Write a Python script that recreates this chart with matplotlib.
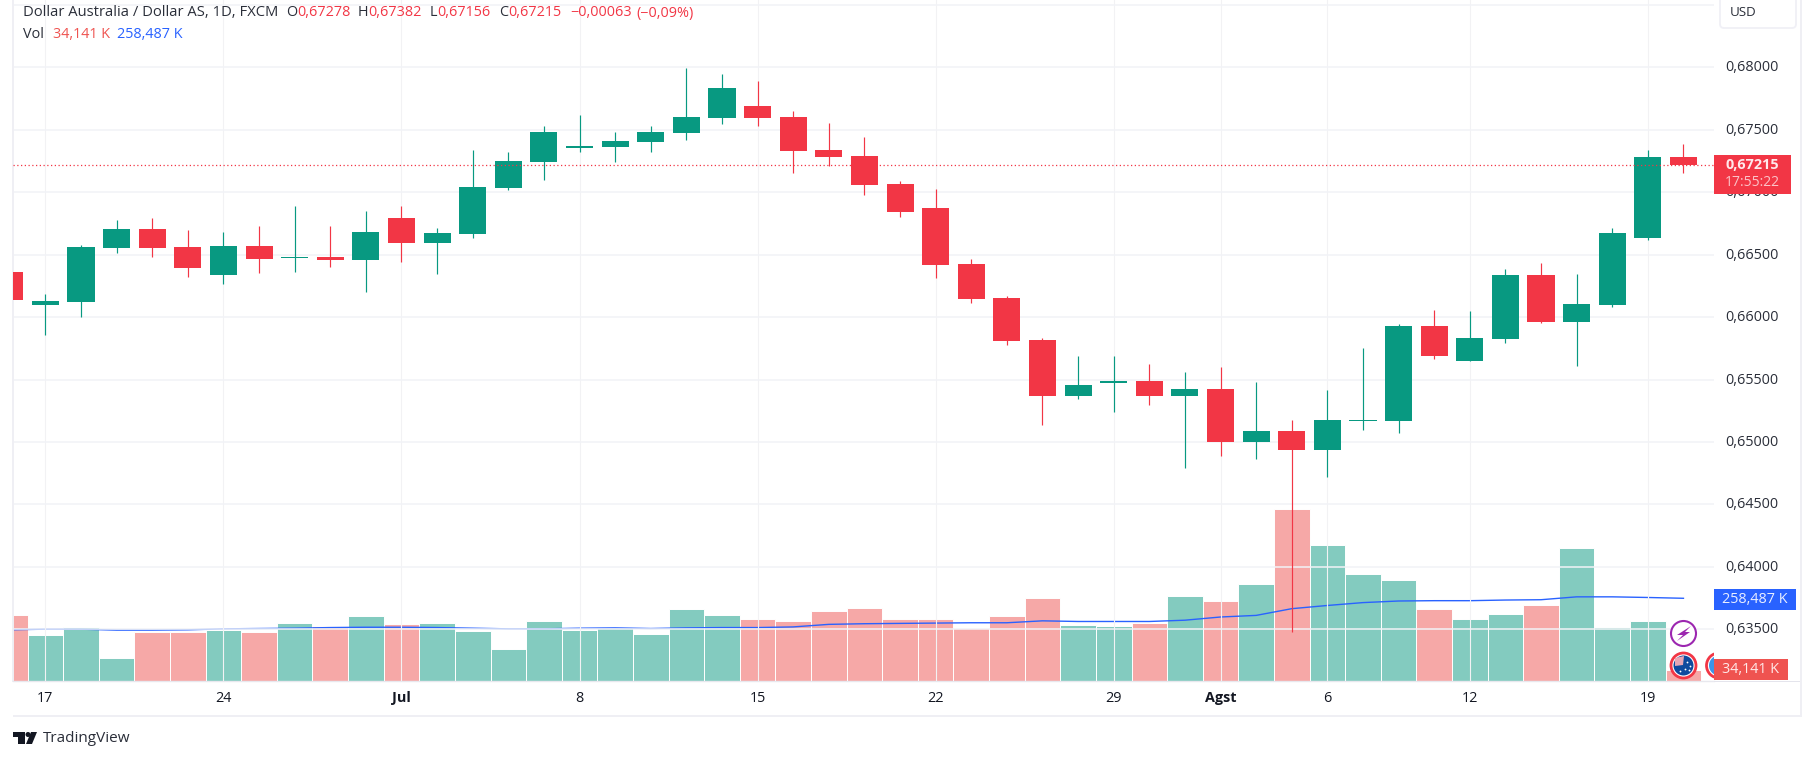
import matplotlib
matplotlib.use("Agg")
import matplotlib.pyplot as plt
from matplotlib.colors import to_rgba
from matplotlib.patches import Rectangle, Circle, Polygon, FancyBboxPatch
from matplotlib.transforms import Affine2D, Bbox

W, H = 1814, 760

# daily candles, first bar is Jun 14, index 0 is Jun 17
bar_idx = list(range(-1, 47))
opens = [0.66361, 0.66097, 0.66121, 0.66553, 0.66706, 0.66561, 0.66337, 0.66569, 0.66473, 0.66481, 0.66457, 0.66794,
         0.66593, 0.66666, 0.67034, 0.67242, 0.67354, 0.67362, 0.67402, 0.67474, 0.67594, 0.67690, 0.67602, 0.67338,
         0.67290, 0.67066, 0.66874, 0.66425, 0.66153, 0.65817, 0.65368, 0.65473, 0.65489, 0.65368, 0.65424, 0.65000,
         0.65088, 0.64936, 0.65168, 0.65168, 0.65929, 0.65649, 0.65825, 0.66337, 0.65961, 0.66097, 0.66634, 0.67278]
highs = [0.66361, 0.66185, 0.66577, 0.66778, 0.66794, 0.66698, 0.66682, 0.66730, 0.66890, 0.66730, 0.66850, 0.66890,
         0.66714, 0.67338, 0.67322, 0.67530, 0.67618, 0.67482, 0.67530, 0.67995, 0.67947, 0.67891, 0.67650, 0.67554,
         0.67442, 0.67090, 0.67026, 0.66465, 0.66169, 0.65833, 0.65689, 0.65689, 0.65625, 0.65561, 0.65601, 0.65481,
         0.65176, 0.65416, 0.65753, 0.65945, 0.66057, 0.66049, 0.66385, 0.66433, 0.66345, 0.66714, 0.67338, 0.67382]
lows = [0.66137, 0.65857, 0.66001, 0.66513, 0.66481, 0.66321, 0.66265, 0.66353, 0.66361, 0.66401, 0.66201, 0.66441,
        0.66345, 0.66634, 0.67018, 0.67098, 0.67322, 0.67242, 0.67322, 0.67418, 0.67546, 0.67530, 0.67154, 0.67210,
        0.66978, 0.66802, 0.66313, 0.66113, 0.65777, 0.65136, 0.65344, 0.65240, 0.65296, 0.64792, 0.64888, 0.64864,
        0.63481, 0.64720, 0.65096, 0.65072, 0.65665, 0.65649, 0.65795, 0.65953, 0.65609, 0.66081, 0.66617, 0.67156]
closes = [0.66137, 0.66129, 0.66561, 0.66706, 0.66553, 0.66393, 0.66569, 0.66465, 0.66481, 0.66457, 0.66682, 0.66593,
          0.66674, 0.67042, 0.67250, 0.67482, 0.67370, 0.67410, 0.67482, 0.67602, 0.67835, 0.67594, 0.67330, 0.67282,
          0.67058, 0.66842, 0.66417, 0.66145, 0.65809, 0.65368, 0.65456, 0.65489, 0.65368, 0.65424, 0.65000, 0.65088,
          0.64936, 0.65176, 0.65176, 0.65929, 0.65689, 0.65833, 0.66337, 0.65961, 0.66105, 0.66674, 0.67282, 0.67215]

# volume in thousands and its moving average
volume = [206, 144, 169, 72, 153, 153, 159, 153, 181, 172, 203, 178, 181, 156, 100, 188, 159, 166, 147, 225, 206, 194,
          188, 219, 228, 194, 194, 166, 203, 259, 175, 172, 181, 266, 250, 303, 538, 425, 334, 316, 225, 194, 209, 238,
          416, 169, 188, 34.141]
vol_ma = [160, 162, 162, 159, 159, 160, 163, 164, 165, 167, 168, 168, 167, 165, 163, 163, 165, 166, 164, 166, 167, 167,
          169, 177, 179, 180, 181, 182, 182, 188, 186, 186, 186, 190, 200, 205, 226, 236, 245, 250, 251, 251, 253, 254,
          263, 263, 261, 258.487]

price_ticks = [0.635, 0.640, 0.645, 0.650, 0.655, 0.660, 0.665, 0.670, 0.675, 0.680, 0.685]
time_idx = [0, 5, 10, 15, 20, 25, 30, 33, 36, 40, 45]
time_labels = ['17', '24', 'Jul', '8', '15', '22', '29', 'Agst', '6', '12', '19']

GREEN = '#089981'
RED = '#F23645'
GRID = '#F1F3F7'
BORDER = '#EFEFF4'
TEXT = '#131722'

plt.rcParams['font.family'] = ['Open Sans', 'DejaVu Sans']

fig = plt.figure(figsize=(W / 100, H / 100), dpi=100, facecolor='white')
# pixel coordinates measured from the top left, for everything around the plot
px = Affine2D().scale(1, -1).translate(0, H)

left, right, top, bottom = 13, 1714, 0, 681
pos = [left / W, 1 - bottom / H, (right - left) / W, (bottom - top) / H]
xlim = ((left - 45.4) / 35.61, (right - 45.4) / 35.61)

# volume pane sits behind the price pane
ax_vol = fig.add_axes(pos, zorder=1)
ax_vol.set_xlim(xlim)
ax_vol.set_ylim(0, (bottom - top) * 3.125)
ax_vol.axis('off')

vol_colors = [to_rgba(GREEN, 0.5) if c >= o else to_rgba('#EF5350', 0.5) for o, c in zip(opens, closes)]
ax_vol.bar(bar_idx, volume, width=1.0, color=vol_colors, edgecolor='white', linewidth=0.7)
ax_vol.plot(bar_idx, vol_ma, color='#2962FF', lw=1.0)

ax = fig.add_axes(pos, zorder=2)
ax.patch.set_visible(False)
ax.set_xlim(xlim)
ax.set_ylim(0.68 - (bottom - 67.3) / 12490, 0.68 + 67.3 / 12490)

ax.set_yticks(price_ticks)
ax.set_yticklabels([f'{t:.5f}'.replace('.', ',') for t in price_ticks], fontsize=10.4, color='#2A2E39')
ax.yaxis.tick_right()
ax.set_xticks(time_idx)
ax.set_xticklabels(time_labels, fontsize=10.4, color=TEXT)
for lab in ax.get_xticklabels():
    if lab.get_text() in ('Jul', 'Agst'):
        lab.set_fontweight('bold')
ax.tick_params(axis='y', length=0, pad=8)
ax.tick_params(axis='x', length=0, pad=7.5)
# price labels sit a little above their grid lines
for lab in ax.get_yticklabels():
    lab.set_transform(lab.get_transform() + Affine2D().translate(0, 1.5))
# the 0,685 label is hidden behind the USD box
ax.get_yticklabels()[-1].set_visible(False)
ax.grid(True, axis='y', color=GRID, lw=1.1)
ax.grid(True, axis='x', color='#F2F2F4', lw=0.8)
ax.set_axisbelow(True)
for name in ('top', 'right'):
    ax.spines[name].set_visible(False)
ax.spines['left'].set_color(BORDER)
ax.spines['left'].set_linewidth(1.4)
ax.spines['bottom'].set_color('#E8E8EE')
ax.spines['bottom'].set_linewidth(1.0)

# candles
for i, o, h, l, c in zip(bar_idx, opens, highs, lows, closes):
    col = GREEN if c >= o else RED
    ax.vlines(i, l, h, color=col, lw=0.85, zorder=3)
    ax.bar(i, abs(c - o), bottom=min(o, c), width=0.76, color=col, linewidth=0, zorder=4)

# last price line
ax.axhline(closes[-1], color=RED, lw=0.9, ls=(0, (1, 2)), zorder=5)


def box(x0, y0, x1, y1, color, **kw):
    fig.add_artist(Rectangle((x0, y0), x1 - x0, y1 - y0, transform=px, facecolor=color, edgecolor='none', zorder=10, **kw))


def label(x, y, s, color=TEXT, size=10.4, ha='left', weight='normal', z=11):
    fig.text(x, y, s, transform=px, color=color, fontsize=size, ha=ha, va='center', fontweight=weight, zorder=z)


# right side and bottom frame
box(1800, 0, 1802, 717, BORDER)
box(13, 715, 1802, 717, BORDER)
box(1714, 680.5, 1800, 681.5, '#E4E4EC')

# USD button
fig.add_artist(FancyBboxPatch((1720, -10), 76, 38, boxstyle='round,pad=0,rounding_size=4', transform=px,
                              facecolor='white', edgecolor='#F0F0F6', lw=1.3, zorder=10))
label(1730, 13, 'USD', color='#2A2E39', size=9.6)

# price and countdown tag
box(1714, 155, 1791, 193.5, RED)
label(1752, 165, '0,67215', color='#FFE9EB', weight='bold', ha='center')
label(1752, 183, '17:55:22', color='#FBC3C8', size=10, ha='center')

# volume tags
box(1714, 589, 1796, 610, '#2962FF')
label(1755, 599.5, '258,487 K', color='#E8EEFF', ha='center')
box(1714, 659, 1788, 680, '#EF5350')
label(1751, 669.5, '34,141 K', color='#FFE9E8', ha='center')

# legend lines
label(23, 13, 'Dollar Australia / Dollar AS, 1D, FXCM', color='#2A2E39', size=10.6)
for x, s in [(286, 'O'), (358, 'H'), (430, 'L'), (499, 'C')]:
    label(x, 13, s, color='#2A2E39', size=10.4)
for x, s in [(297, '0,67278'), (368, '0,67382'), (437.5, '0,67156'), (508, '0,67215'), (570, '\u22120,00063'),
             (636, '(\u22120,09%)')]:
    label(x, 13, s, color=RED, size=10.4)
label(23, 34, 'Vol', color='#2A2E39', size=10.4)
label(53, 34, '34,141 K', color='#EF5350', size=10.4)
label(117, 34, '258,487 K', color='#2962FF', size=10.4)

# event icons
fig.add_artist(Circle((1683.5, 633.5), 12.5, transform=px, facecolor='white', edgecolor='#9C27B0', lw=1.5, zorder=6))
fig.add_artist(Polygon([(1691, 626), (1677, 635), (1683, 635), (1677, 641), (1690, 632), (1685, 632)], closed=True,
                       transform=px, facecolor='#9C27B0', edgecolor='none', zorder=7))
fig.add_artist(Circle((1683.5, 665.5), 12.5, transform=px, facecolor='white', edgecolor='#F23645', lw=2, zorder=6))
fig.add_artist(Circle((1683.5, 665.5), 10, transform=px, facecolor='#0F4A9E', edgecolor='none', zorder=7))
fig.add_artist(Polygon([(1675, 658), (1684, 656), (1683, 665), (1675, 666)], closed=True, transform=px,
                       facecolor='#E8A6B4', edgecolor='none', zorder=8))
for dx, dy in [(4, -3), (7, 1), (2, 4), (-3, 6), (6, 5)]:
    fig.add_artist(Circle((1683.5 + dx, 665.5 + dy), 0.9, transform=px, facecolor='white', edgecolor='none', zorder=8))
# the next event badge is cut off by the price scale
clip = Bbox([[0, 0], [1714, H]])
c1 = Circle((1719, 665.5), 12.5, transform=px, facecolor='white', edgecolor='#F23645', lw=2, zorder=6)
c2 = Circle((1719, 665.5), 10, transform=px, facecolor='#3D94E8', edgecolor='none', zorder=7)
for c in (c1, c2):
    fig.add_artist(c)
    c.set_clip_box(clip)

# TradingView logo
box(13, 732, 25, 737, '#131722')
box(18, 737, 25, 744, '#131722')
fig.add_artist(Circle((28, 734.5), 2.5, transform=px, facecolor='#131722', edgecolor='none', zorder=10))
fig.add_artist(Polygon([(31, 732), (37, 732), (32, 744), (26, 744)], closed=True, transform=px, facecolor='#131722',
                       edgecolor='none', zorder=10))
label(43, 738, 'TradingView', color='#2A2E39', size=11)

fig.savefig('out.png', dpi=100, facecolor='white')
